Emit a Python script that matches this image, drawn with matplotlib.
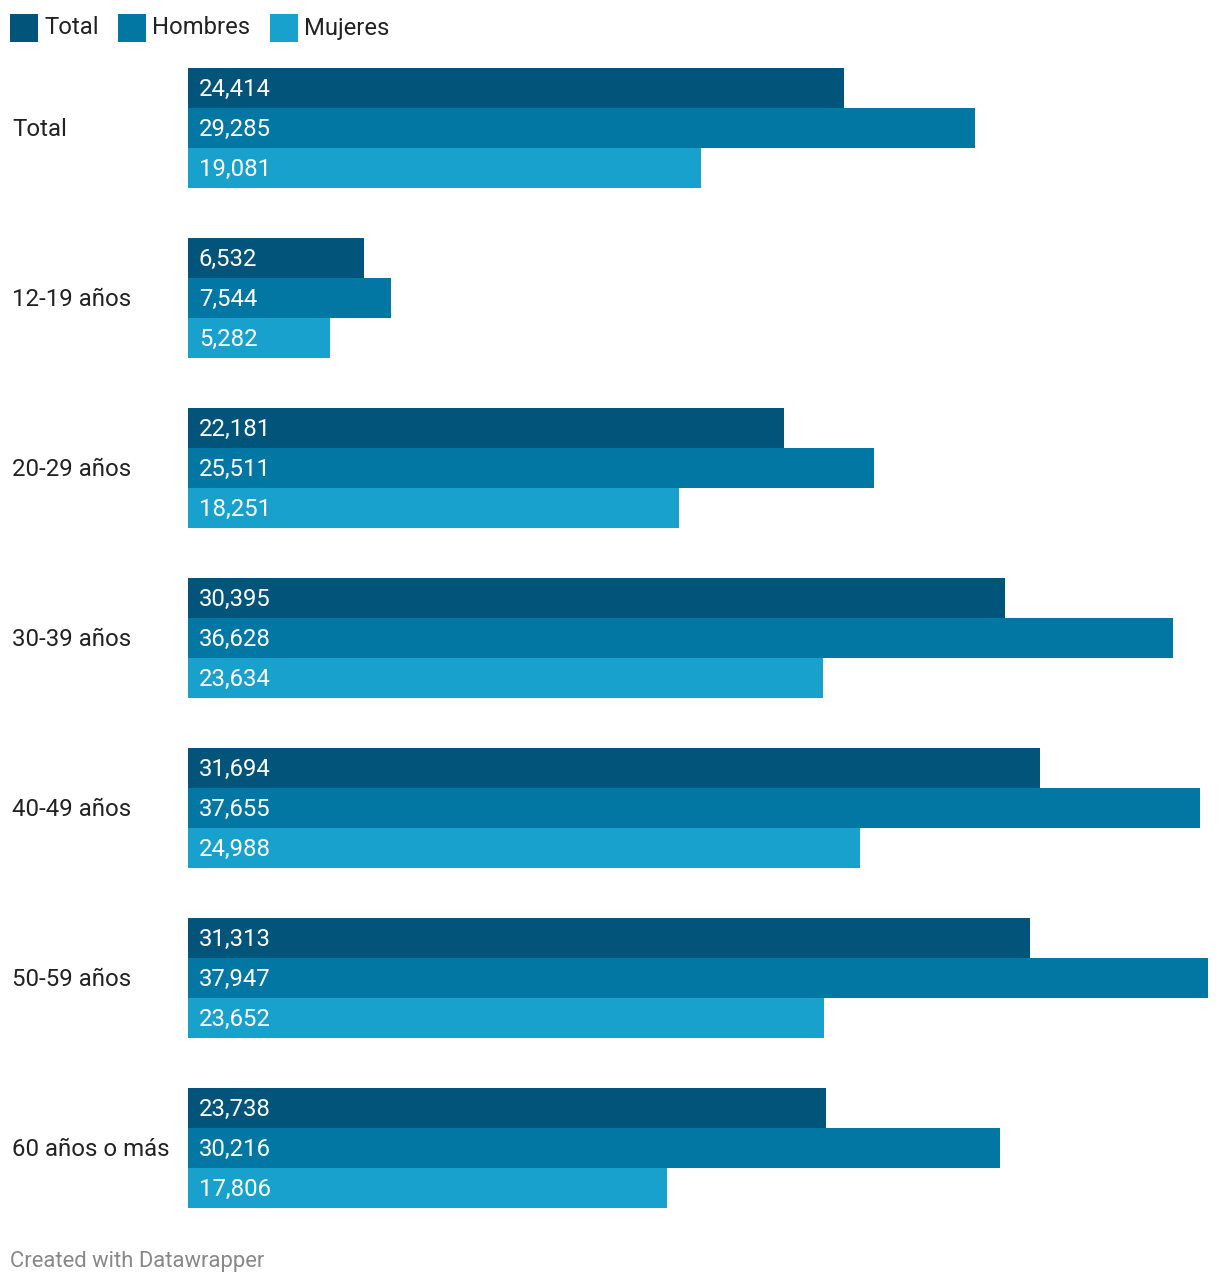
import matplotlib
matplotlib.use("Agg")
import matplotlib.pyplot as plt
import matplotlib.transforms as mtransforms
from matplotlib.patches import Rectangle

categories = ["Total", "12-19 años", "20-29 años", "30-39 años", "40-49 años", "50-59 años", "60 años o más"]
series_names = ["Total", "Hombres", "Mujeres"]
total = [24414, 6532, 22181, 30395, 31694, 31313, 23738]
hombres = [29285, 7544, 25511, 36628, 37655, 37947, 30216]
mujeres = [19081, 5282, 18251, 23634, 24988, 23652, 17806]
colors = ["#03547b", "#0377a4", "#19a1ce"]

W, H = 1220, 1286
fig = plt.figure(figsize=(W / 100, H / 100), dpi=100)
plt.rcParams['font.family'] = ['Roboto', 'DejaVu Sans']

ax_left, ax_right = 188, 1208
ax_top, ax_bottom = 68, 1208
ax = fig.add_axes([ax_left / W, 1 - ax_bottom / H, (ax_right - ax_left) / W, (ax_bottom - ax_top) / H])

group_step = 4.25
series = [total, hombres, mujeres]
for j, vals in enumerate(series):
    ys = [i * group_step + j for i in range(len(categories))]
    ax.barh(ys, vals, height=1.0, color=colors[j], edgecolor="none")
    for y, v in zip(ys, vals):
        ax.text(11 * max(hombres) / (ax_right - ax_left), y + 0.045, f"{v:,}", color="white",
                fontsize=17.2, va="center", ha="left")

ax.set_xlim(0, max(hombres))
ax.set_ylim((len(categories) - 1) * group_step + 2.5, -0.5)
ax.axis("off")

blend = mtransforms.blended_transform_factory(fig.transFigure, ax.transData)
for i, cat in enumerate(categories):
    y = i * group_step + 1
    ax.text(12 / W, y + 0.045, cat, transform=blend, fontsize=17.3, color="#222222",
            va="center", ha="left")

# legend
leg_x = [10, 118, 270]
for x, name, c in zip(leg_x, series_names, colors):
    fig.patches.append(Rectangle((x / W, 1 - 42 / H), 28 / W, 28 / H, transform=fig.transFigure,
                                 facecolor=c, edgecolor="none"))
    fig.text((x + 34) / W, 1 - 28 / H, name, fontsize=17.2, color="#222222", va="center", ha="left")

fig.text(10 / W, 1 - 1262 / H, "Created with Datawrapper", fontsize=15.8, color="#888888",
         va="center", ha="left")

fig.savefig("out.png", dpi=100, facecolor="white")
